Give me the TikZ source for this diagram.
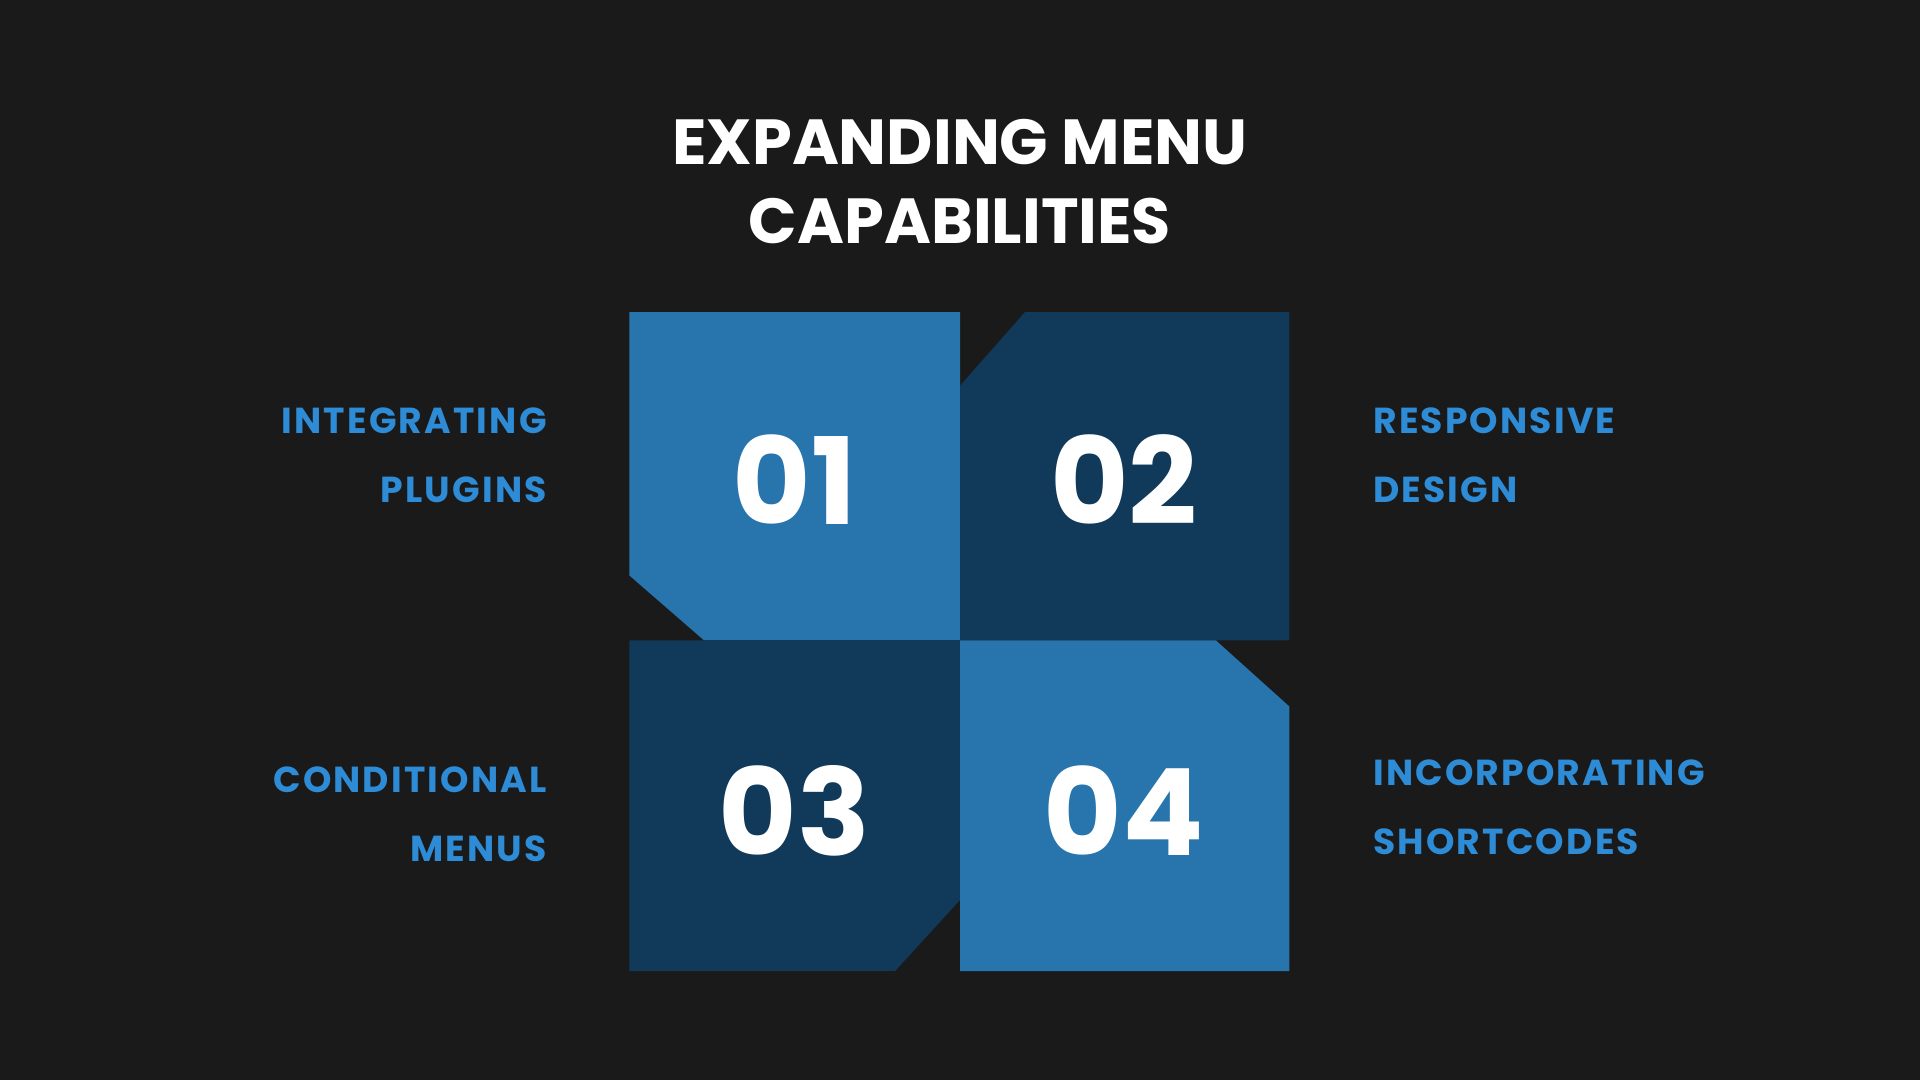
\documentclass[tikz,border=0pt]{standalone}
\usepackage{fontspec}
\setmainfont{Poppins}
\definecolor{bg}{HTML}{1A1A1A}
\definecolor{lb}{HTML}{2874AD}
\definecolor{db}{HTML}{10395A}
\definecolor{tb}{HTML}{2E8BD6}
\begin{document}
\begin{tikzpicture}[x=0.0125cm,y=-0.0125cm,
  num/.style={text=white,font=\fontsize{35}{40}\selectfont\bfseries},
  lbl/.style={text=tb,font=\fontsize{10.5}{14}\selectfont\bfseries\addfontfeatures{LetterSpace=6},inner sep=0pt},
  ttl/.style={text=white,font=\fontsize{18.5}{23}\selectfont\bfseries,align=center}]
\fill[bg] (0,0) rectangle (1568,882);
\useasboundingbox (0,0) rectangle (1568,882);
\fill[lb] (514,255) -- (784,255) -- (784,523) -- (575,523) -- (514,470) -- cycle;
\fill[db] (837,255) -- (1053,255) -- (1053,523) -- (784,523) -- (784,315) -- cycle;
\fill[db] (514,523) -- (784,523) -- (784,735) -- (731,793) -- (514,793) -- cycle;
\fill[lb] (784,523) -- (993,523) -- (1053,577) -- (1053,793) -- (784,793) -- cycle;
\node[ttl] (title) at (784,148) {EXPANDING MENU\\CAPABILITIES};
\node[num] (n1) at (649,392) {01};
\node[num] (n2) at (918,392) {02};
\node[num] (n3) at (649,662) {03};
\node[num] (n4) at (918,662) {04};
\node[lbl,anchor=east,align=right] (l1) at (447,372) {INTEGRATING\\[6pt]PLUGINS};
\node[lbl,anchor=west,align=left] (l2) at (1121,372) {RESPONSIVE\\[6pt]DESIGN};
\node[lbl,anchor=east,align=right] (l3) at (447,665) {CONDITIONAL\\[6pt]MENUS};
\node[lbl,anchor=west,align=left] (l4) at (1121,659) {INCORPORATING\\[6pt]SHORTCODES};
\end{tikzpicture}
\end{document}
